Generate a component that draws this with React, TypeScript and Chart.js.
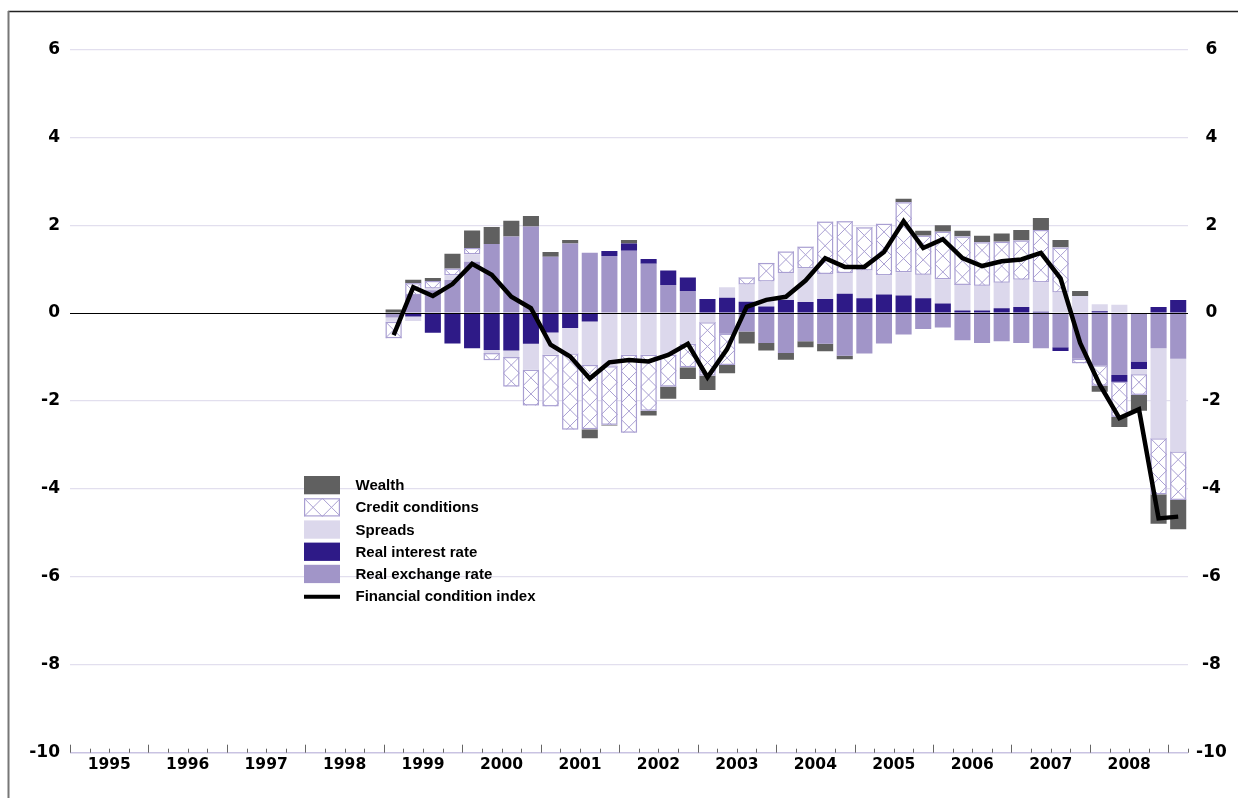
import React, { useEffect, useRef } from "react";
import { Chart, registerables } from "chart.js";

Chart.register(...registerables);

// ---------- data ----------
const years = ["1995", "1996", "1997", "1998", "1999", "2000", "2001", "2002", "2003", "2004", "2005", "2006", "2007", "2008"];
const quarterLabels = [...years, "2009"].flatMap((y) => ["Q1", "Q2", "Q3", "Q4"].map((q) => `${y} ${q}`)).slice(0, 57);
const firstDataQuarter = 16; // 1999 Q1

const realExchangeRate = [
  -0.10, 0.41, 0.52, 0.75, 1.17, 1.57, 1.74, 1.97, 1.28, 1.58, 1.37, 1.30, 1.42, 1.12, 0.64, 0.50,
  0.00, -0.47, -0.42, -0.68, -0.91, -0.64, -0.70, -0.97, -0.92, -0.69, -0.49, -0.36, -0.33, -0.62, -0.68, -0.64,
  -0.68, -0.80, -0.78, -1.04, -1.19, -1.41, -1.10, -0.80, -1.04,
];
const realInterestRate = [
  0.00, -0.08, -0.45, -0.69, -0.80, -0.84, -0.85, -0.70, -0.44, -0.34, -0.19, 0.11, 0.16, 0.11, 0.33, 0.31,
  0.32, 0.35, 0.26, 0.15, 0.30, 0.25, 0.32, 0.44, 0.34, 0.42, 0.40, 0.34, 0.22, 0.06, 0.06, 0.11,
  0.14, 0.03, -0.08, 0.00, 0.04, -0.15, -0.17, 0.14, 0.30,
];
const spreads = [
  -0.10, -0.10, 0.04, 0.11, 0.17, -0.07, -0.15, -0.59, -0.51, -0.58, -0.99, -1.21, -0.95, -0.95, -0.95, -0.70,
  -0.21, 0.24, 0.39, 0.57, 0.61, 0.77, 0.57, 0.47, 0.63, 0.44, 0.53, 0.53, 0.55, 0.58, 0.56, 0.58,
  0.62, 0.67, 0.47, 0.39, 0.16, 0.19, -0.12, -2.05, -2.11,
];
const creditConditions = [
  -0.37, 0.27, 0.17, 0.15, 0.14, -0.16, -0.67, -0.81, -1.17, -1.73, -1.46, -1.33, -1.77, -1.27, -0.72, -0.53,
  -1.21, -0.71, 0.16, 0.42, 0.49, 0.49, 1.19, 1.18, 0.98, 1.17, 1.59, 0.89, 1.08, 1.10, 0.99, 0.93,
  0.89, 1.19, 1.02, -0.10, -0.46, -0.80, -0.47, -1.27, -1.10,
];
const wealth = [
  0.08, 0.08, 0.07, 0.34, 0.40, 0.39, 0.36, 0.24, 0.11, 0.08, -0.21, -0.02, 0.08, -0.11, -0.28, -0.27,
  -0.33, -0.19, -0.27, -0.17, -0.15, -0.14, -0.17, -0.08, 0.00, 0.00, 0.08, 0.11, 0.15, 0.13, 0.15, 0.19,
  0.24, 0.27, 0.17, 0.11, -0.14, -0.23, -0.36, -0.67, -0.67,
];
const financialConditionIndex = [
  -0.50, 0.59, 0.39, 0.66, 1.12, 0.87, 0.37, 0.11, -0.72, -0.99, -1.49, -1.12, -1.07, -1.10, -0.95, -0.70,
  -1.46, -0.82, 0.14, 0.30, 0.37, 0.74, 1.25, 1.05, 1.05, 1.39, 2.09, 1.48, 1.68, 1.25, 1.07, 1.18,
  1.22, 1.37, 0.79, -0.68, -1.63, -2.39, -2.19, -4.67, -4.63,
];

const seriesNames = {
  wealth: "Wealth",
  credit: "Credit conditions",
  spreads: "Spreads",
  rir: "Real interest rate",
  rer: "Real exchange rate",
  fci: "Financial condition index",
};

// ---------- styles ----------
const COL = {
  wealth: "#606060",
  hatch: "#a99fd2",
  spreads: "#dcd8ec",
  rir: "#2e1a87",
  rer: "#a195c8",
  fci: "#000000",
  grid: "#e2dfee",
  axis: "#c9c3e2",
  tick: "#666666",
};
const CREDIT_INDEX = 3;

const pad = (vals: number[]) => [...Array(firstDataQuarter).fill(null), ...vals];

function drawHatchRect(ctx: CanvasRenderingContext2D, left: number, top: number, w: number, h: number, cell: number) {
  ctx.save();
  ctx.beginPath();
  ctx.rect(left, top, w, h);
  ctx.clip();
  ctx.strokeStyle = COL.hatch;
  ctx.lineWidth = 1;
  ctx.beginPath();
  const n = Math.ceil(h / cell) + 2;
  for (let k = -1; k <= n; k++) {
    for (let j = 0; j * cell < w + cell; j++) {
      const x0 = left + j * cell;
      const y0 = top + k * cell;
      ctx.moveTo(x0, y0);
      ctx.lineTo(x0 + cell, y0 + cell);
      ctx.moveTo(x0, y0 + cell);
      ctx.lineTo(x0 + cell, y0);
    }
  }
  ctx.stroke();
  ctx.restore();
  ctx.save();
  ctx.strokeStyle = COL.hatch;
  ctx.lineWidth = 1.2;
  ctx.strokeRect(left + 0.6, top + 0.6, w - 1.2, h - 1.2);
  ctx.restore();
}

const customPlugin = {
  id: "customDecor",
  beforeDraw(chart: any) {
    const ctx = chart.ctx as CanvasRenderingContext2D;
    ctx.save();
    ctx.fillStyle = "#ffffff";
    ctx.fillRect(0, 0, chart.width, chart.height);
    ctx.strokeStyle = "#222222";
    ctx.lineWidth = 1.5;
    ctx.beginPath();
    ctx.moveTo(8, 11.5);
    ctx.lineTo(chart.width, 11.5);
    ctx.stroke();
    ctx.strokeStyle = "#777777";
    ctx.lineWidth = 2;
    ctx.beginPath();
    ctx.moveTo(8.5, 11);
    ctx.lineTo(8.5, chart.height);
    ctx.stroke();
    ctx.restore();
  },
  afterDatasetDraw(chart: any, args: any) {
    if (args.index !== CREDIT_INDEX) return;
    const ctx = chart.ctx as CanvasRenderingContext2D;
    args.meta.data.forEach((el: any) => {
      const p = el.getProps(["x", "y", "base", "width"], true);
      if (p.y == null || isNaN(p.y) || isNaN(p.base)) return;
      const h = Math.abs(p.base - p.y);
      if (h < 0.5) return;
      const left = p.x - p.width / 2;
      const top = Math.min(p.y, p.base);
      drawHatchRect(ctx, left, top, p.width, h, p.width);
    });
  },
  afterDatasetsDraw(chart: any) {
    const ctx = chart.ctx as CanvasRenderingContext2D;
    const area = chart.chartArea;
    const y = chart.scales.y;
    const x = chart.scales.x;
    // zero line above bars
    const y0 = Math.round(y.getPixelForValue(0)) + 0.5;
    ctx.save();
    ctx.strokeStyle = "#000";
    ctx.lineWidth = 1.2;
    ctx.beginPath();
    ctx.moveTo(area.left, y0);
    ctx.lineTo(area.right, y0);
    ctx.stroke();
    // x-axis tick marks (pointing up)
    const slot = x.getPixelForValue(1) - x.getPixelForValue(0);
    const start = x.getPixelForValue(0) - slot / 2;
    ctx.strokeStyle = COL.tick;
    ctx.lineWidth = 1;
    ctx.beginPath();
    for (let i = 0; i <= quarterLabels.length; i++) {
      const px = Math.round(start + i * slot) + 0.5;
      const len = i % 4 === 0 ? 8 : 4;
      ctx.moveTo(px, area.bottom - len);
      ctx.lineTo(px, area.bottom);
    }
    ctx.stroke();
    ctx.restore();
  },
  afterDraw(chart: any) {
    const ctx = chart.ctx as CanvasRenderingContext2D;
    const items = [
      { name: seriesNames.wealth, kind: "fill", color: COL.wealth },
      { name: seriesNames.credit, kind: "hatch", color: "#fff" },
      { name: seriesNames.spreads, kind: "fill", color: COL.spreads },
      { name: seriesNames.rir, kind: "fill", color: COL.rir },
      { name: seriesNames.rer, kind: "fill", color: COL.rer },
      { name: seriesNames.fci, kind: "line", color: COL.fci },
    ];
    const bx = 304;
    const by = 476;
    const bw = 36;
    const bh = 18.3;
    const pitch = 22.2;
    ctx.save();
    ctx.font = "bold 15px 'Liberation Sans', Arial, sans-serif";
    ctx.fillStyle = "#000";
    ctx.textBaseline = "middle";
    ctx.textAlign = "left";
    items.forEach((it, i) => {
      const top = by + i * pitch;
      const cy = top + bh / 2;
      if (it.kind === "fill") {
        ctx.fillStyle = it.color;
        ctx.fillRect(bx, top, bw, bh);
      } else if (it.kind === "hatch") {
        ctx.fillStyle = "#fff";
        ctx.fillRect(bx, top, bw, bh);
        drawHatchRect(ctx, bx, top, bw, bh, bh);
      } else {
        ctx.strokeStyle = it.color;
        ctx.lineWidth = 4;
        ctx.beginPath();
        ctx.moveTo(bx, cy + 0.5);
        ctx.lineTo(bx + bw, cy + 0.5);
        ctx.stroke();
      }
      ctx.fillStyle = "#000";
      ctx.fillText(it.name, 355.5, cy + 1);
    });
    ctx.restore();
  },
};

export default function App() {
  const ref = useRef<HTMLCanvasElement | null>(null);

  useEffect(() => {
    if (!ref.current) return;
    const axisFont = { family: "'DejaVu Sans', sans-serif", weight: "bold" as const, size: 17 };
    const barCommon = { order: 1, stack: "bars", categoryPercentage: 1, barPercentage: 0.82, borderWidth: 0 };
    const chart = new Chart(ref.current, {
      type: "bar",
      data: {
        labels: quarterLabels,
        datasets: [
          { ...barCommon, type: "bar", label: seriesNames.rer, data: pad(realExchangeRate), backgroundColor: COL.rer },
          { ...barCommon, type: "bar", label: seriesNames.rir, data: pad(realInterestRate), backgroundColor: COL.rir },
          { ...barCommon, type: "bar", label: seriesNames.spreads, data: pad(spreads), backgroundColor: COL.spreads },
          { ...barCommon, type: "bar", label: seriesNames.credit, data: pad(creditConditions), backgroundColor: "#ffffff" },
          { ...barCommon, type: "bar", label: seriesNames.wealth, data: pad(wealth), backgroundColor: COL.wealth },
          {
            type: "line",
            label: seriesNames.fci,
            data: pad(financialConditionIndex),
            borderColor: COL.fci,
            borderWidth: 4.5,
            pointRadius: 0,
            tension: 0,
            order: 0,
            stack: "fci",
          } as any,
        ] as any,
      },
      options: {
        responsive: false,
        animation: false,
        devicePixelRatio: 1,
        layout: { padding: { top: 49.3, left: 0, right: 0, bottom: 0 } },
        plugins: { legend: { display: false }, tooltip: { enabled: false } },
        scales: {
          x: {
            type: "category",
            stacked: true,
            offset: true,
            grid: { display: false, drawTicks: false },
            border: { display: false },
            ticks: {
              autoSkip: false,
              maxRotation: 0,
              minRotation: 0,
              labelOffset: -9.8,
              padding: 3,
              color: "#000",
              font: { family: "'DejaVu Sans', sans-serif", weight: "bold", size: 15.5 },
              callback: (_v: any, i: number) => (i % 4 === 2 ? years[(i - 2) / 4] : ""),
            },
            afterFit: (s: any) => {
              s.height = 45.3;
            },
          },
          y: {
            position: "left",
            stacked: true,
            min: -10,
            max: 6,
            ticks: { stepSize: 2, color: "#000", font: axisFont, padding: 10 },
            grid: {
              drawTicks: false,
              color: (c: any) => (c.tick && c.tick.value === 0 ? "rgba(0,0,0,0)" : c.tick && c.tick.value === -10 ? COL.axis : COL.grid),
              lineWidth: (c: any) => (c.tick && c.tick.value === -10 ? 1.5 : 1.2),
            },
            border: { display: false },
            afterFit: (s: any) => {
              s.width = 70;
            },
          },
          y2: {
            position: "right",
            min: -10,
            max: 6,
            ticks: { stepSize: 2, color: "#000", font: axisFont, padding: 8, crossAlign: "center" },
            grid: { display: false, drawTicks: false },
            border: { display: false },
            afterFit: (s: any) => {
              s.width = 50;
            },
          },
        },
      } as any,
      plugins: [customPlugin],
    });
    return () => chart.destroy();
  }, []);

  return (
    <div style={{ position: "absolute", left: 0, top: 0, width: 1238, height: 798, background: "#fff" }}>
      <canvas ref={ref} width={1238} height={798} style={{ display: "block" }} />
    </div>
  );
}
